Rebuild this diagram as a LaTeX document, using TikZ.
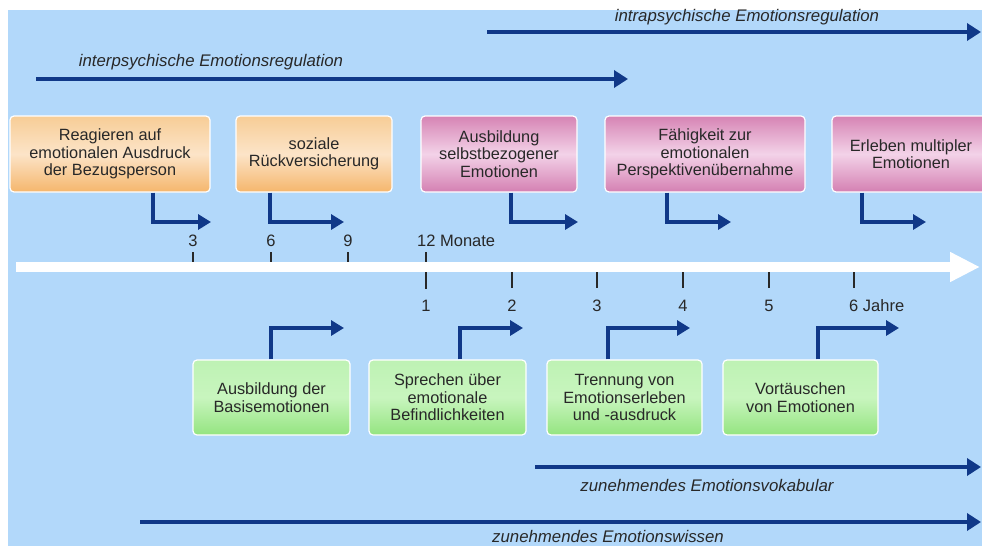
\documentclass[tikz,border=0pt]{standalone}
\usepackage{fontspec}
\setmainfont{Liberation Sans}
\usetikzlibrary{arrows.meta}
\definecolor{bg}{RGB}{178,216,250}
\definecolor{navy}{RGB}{16,56,136}
\definecolor{txt}{RGB}{40,40,40}
\definecolor{orT}{RGB}{247,205,150}
\definecolor{orM}{RGB}{252,228,200}
\definecolor{orB}{RGB}{245,182,108}
\definecolor{mgT}{RGB}{214,132,180}
\definecolor{mgM}{RGB}{243,210,232}
\definecolor{mgB}{RGB}{212,128,178}
\definecolor{grT}{RGB}{190,242,180}
\definecolor{grM}{RGB}{200,245,190}
\definecolor{grB}{RGB}{148,228,128}
\tikzset{
  box/.style={rectangle, rounded corners=4pt, draw=white, line width=1.2pt,
    align=center, text=txt, font=\fontsize{16.3}{17.5}\selectfont, inner sep=2pt},
  orbox/.style={box, top color=orT, bottom color=orB, middle color=orM},
  mgbox/.style={box, top color=mgT, bottom color=mgB, middle color=mgM},
  grbox/.style={box, top color=grT, bottom color=grB, middle color=grM},
  mainarrow/.style={draw=navy, line width=4pt, -{Triangle[length=14pt,width=17pt]}},
  conn/.style={draw=navy, line width=4.5pt, line join=miter, -{Triangle[length=13pt,width=15pt]}},
  lbl/.style={text=txt, font=\fontsize{16.8}{19}\selectfont\itshape},
  tick/.style={draw=txt, line width=2pt},
  num/.style={text=txt, font=\fontsize{16.5}{18}\selectfont, inner sep=0pt}
}
\begin{document}
\begin{tikzpicture}[x=1pt,y=-1pt]
\useasboundingbox (0,0) rectangle (982,546);
\fill[bg] (8,10) rectangle (982,546);

% regulation arrows
\coordinate (ia0) at (487,32);
\coordinate (ia1) at (981,32);
\draw[mainarrow] (ia0) -- (ia1);
\node[lbl] (ial) at (747,17) {intrapsychische Emotionsregulation};
\coordinate (ea0) at (36,79);
\coordinate (ea1) at (628,79);
\draw[mainarrow] (ea0) -- (ea1);
\node[lbl] (eal) at (211,62) {interpsychische Emotionsregulation};

% ticks
\foreach \n/\x in {m3/193,m6/271,m9/348}{
  \coordinate (\n a) at (\x,252);
  \coordinate (\n b) at (\x,263);
  \draw[tick] (\n a) -- (\n b);
}
\coordinate (m12a) at (426,252);
\coordinate (m12b) at (426,289);
\draw[tick] (m12a) -- (m12b);
\foreach \n/\x in {y2/512,y3/597,y4/683,y5/769,y6/854}{
  \coordinate (\n a) at (\x,272);
  \coordinate (\n b) at (\x,288);
  \draw[tick] (\n a) -- (\n b);
}

% timeline
\coordinate (tl0) at (16,267);
\coordinate (tl1) at (980,267);
\draw[white, line width=10pt, -{Triangle[length=30pt,width=28pt]}] (tl0) -- (tl1);

% labels
\node[num] (l3) at (193,241) {3};
\node[num] (l6) at (271,241) {6};
\node[num] (l9) at (348,241) {9};
\node[num, anchor=west] (l12) at (417,241) {12 Monate};
\node[num] (l1) at (426,306) {1};
\node[num] (l2) at (512,306) {2};
\node[num] (ly3) at (597,306) {3};
\node[num] (l4) at (683,306) {4};
\node[num] (l5) at (769,306) {5};
\node[num, anchor=west] (ly6) at (849,306) {6 Jahre};

% top boxes
\node[orbox, minimum width=200pt, minimum height=76pt] (b1) at (110,154)
  {Reagieren auf\\emotionalen Ausdruck\\der Bezugsperson};
\node[orbox, minimum width=156pt, minimum height=76pt] (b2) at (314,154)
  {soziale\\Rückversicherung};
\node[mgbox, minimum width=156pt, minimum height=76pt] (b3) at (499,154)
  {Ausbildung\\selbstbezogener\\Emotionen};
\node[mgbox, minimum width=200pt, minimum height=76pt] (b4) at (705,154)
  {Fähigkeit zur\\emotionalen\\Perspektivenübernahme};
\node[mgbox, minimum width=158pt, minimum height=76pt] (b5) at (911,154)
  {Erleben multipler\\Emotionen};

% bottom boxes
\node[grbox, minimum width=157pt, minimum height=75pt] (g1) at (271.5,397.5)
  {Ausbildung der\\Basisemotionen};
\node[grbox, minimum width=157pt, minimum height=75pt] (g2) at (447.5,397.5)
  {Sprechen über\\emotionale\\Befindlichkeiten};
\node[grbox, minimum width=155pt, minimum height=75pt] (g3) at (624.5,397.5)
  {Trennung von\\Emotionserleben\\und -ausdruck};
\node[grbox, minimum width=155pt, minimum height=75pt] (g4) at (800.5,397.5)
  {Vortäuschen\\von Emotionen};

% connectors from top boxes
\coordinate (t1) at (211,222);
\coordinate (t2) at (344,222);
\coordinate (t3) at (578,222);
\coordinate (t4) at (731,222);
\coordinate (t5) at (926,222);
\draw[conn] ([xshift=43pt]b1.south) |- (t1);
\draw[conn] ([xshift=-44pt]b2.south) |- (t2);
\draw[conn] ([xshift=12pt]b3.south) |- (t3);
\draw[conn] ([xshift=-38pt]b4.south) |- (t4);
\draw[conn] ([xshift=-49pt]b5.south) |- (t5);

% connectors from bottom boxes
\coordinate (u1) at (344,328);
\coordinate (u2) at (523,328);
\coordinate (u3) at (690,328);
\coordinate (u4) at (899,328);
\draw[conn] ([xshift=-0.5pt]g1.north) |- (u1);
\draw[conn] ([xshift=12.5pt]g2.north) |- (u2);
\draw[conn] ([xshift=-16.5pt]g3.north) |- (u3);
\draw[conn] ([xshift=17.5pt]g4.north) |- (u4);

% knowledge arrows
\coordinate (va0) at (535,467);
\coordinate (va1) at (981,467);
\draw[mainarrow] (va0) -- (va1);
\node[lbl] (val) at (707,485) {zunehmendes Emotionsvokabular};
\coordinate (wa0) at (140,522);
\coordinate (wa1) at (981,522);
\draw[mainarrow] (wa0) -- (wa1);
\node[lbl] (wal) at (608,536) {zunehmendes Emotionswissen};
\end{tikzpicture}
\end{document}
